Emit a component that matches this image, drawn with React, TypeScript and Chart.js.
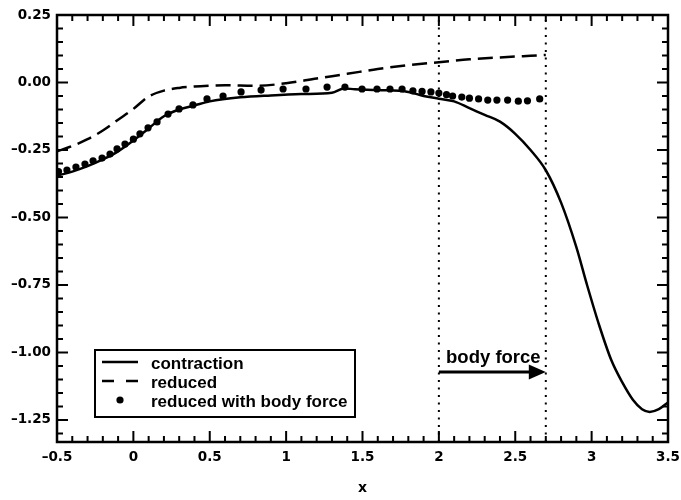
import React, { useEffect, useRef } from "react";
import { Chart, registerables } from "chart.js";
Chart.register(...registerables);

// ---- data ----
const contractionX = [-0.5, -0.4, -0.3, -0.2, -0.1, 0.0, 0.1, 0.2, 0.3, 0.4, 0.5, 0.7, 0.9, 1.1, 1.3, 1.38, 1.45, 1.6, 1.8, 1.9, 2.0, 2.1, 2.2, 2.3, 2.4, 2.5, 2.6, 2.7, 2.8, 2.9, 2.97, 3.05, 3.13, 3.2, 3.27, 3.33, 3.38, 3.44, 3.5];
const contractionY = [-0.345, -0.33, -0.31, -0.285, -0.255, -0.215, -0.17, -0.125, -0.1, -0.085, -0.07, -0.055, -0.048, -0.043, -0.038, -0.022, -0.025, -0.028, -0.035, -0.05, -0.06, -0.07, -0.095, -0.12, -0.145, -0.19, -0.25, -0.325, -0.445, -0.61, -0.75, -0.9, -1.03, -1.11, -1.175, -1.21, -1.22, -1.21, -1.185];

const reducedX = [-0.5, -0.4, -0.3, -0.2, -0.1, 0.0, 0.1, 0.2, 0.3, 0.4, 0.5, 0.6, 0.8, 1.0, 1.2, 1.4, 1.6, 1.8, 2.0, 2.2, 2.4, 2.6, 2.7];
const reducedY = [-0.255, -0.235, -0.21, -0.178, -0.138, -0.098, -0.052, -0.03, -0.02, -0.015, -0.012, -0.01, -0.012, -0.003, 0.015, 0.032, 0.05, 0.064, 0.075, 0.086, 0.093, 0.099, 0.102];

const bodyForceX = [-0.49, -0.435, -0.376, -0.317, -0.264, -0.205, -0.153, -0.107, -0.055, 0.0, 0.043, 0.096, 0.155, 0.227, 0.299, 0.39, 0.482, 0.587, 0.705, 0.836, 0.98, 1.13, 1.268, 1.385, 1.497, 1.595, 1.68, 1.759, 1.83, 1.89, 1.948, 2.0, 2.05, 2.09, 2.15, 2.2, 2.26, 2.32, 2.38, 2.45, 2.52, 2.58, 2.66];
const bodyForceY = [-0.33, -0.324, -0.313, -0.302, -0.29, -0.28, -0.265, -0.246, -0.228, -0.21, -0.19, -0.168, -0.146, -0.117, -0.098, -0.083, -0.061, -0.05, -0.035, -0.028, -0.024, -0.024, -0.017, -0.017, -0.024, -0.024, -0.024, -0.024, -0.031, -0.033, -0.035, -0.039, -0.045, -0.05, -0.054, -0.058, -0.061, -0.065, -0.065, -0.065, -0.069, -0.068, -0.061];

const seriesLabels = ["contraction", "reduced", "reduced with body force"];
const regionX = [2.0, 2.7];
const arrowY = -1.072;
const arrowTextY = -1.04;
const arrowText = "body force";
const axisTitleX = "x";

const X_MIN = -0.5, X_MAX = 3.5, X_STEP = 0.5, X_MINOR = 0.1;
const Y_MIN = -1.3315, Y_MAX = 0.25, Y_STEP = 0.25, Y_MINOR = 0.05;

const zip = (xs: number[], ys: number[]) => xs.map((x, i) => ({ x, y: ys[i] }));

const TICK_FONT = { family: "'DejaVu Sans'", weight: "bold" as const, size: 13.5 };

const frameTicks = {
  id: "frameTicks",
  afterDatasetsDraw(chart: any) {
    const { ctx, chartArea: a, scales } = chart;
    const xs = scales.x, ys = scales.y;
    ctx.save();
    ctx.strokeStyle = "#000";
    ctx.lineWidth = 2;
    ctx.beginPath();
    const nx = Math.round((X_MAX - X_MIN) / X_MINOR);
    for (let i = 0; i <= nx; i++) {
      const v = X_MIN + i * X_MINOR;
      const px = xs.getPixelForValue(v);
      const len = i % 5 === 0 ? 11 : 6;
      ctx.moveTo(px, a.bottom); ctx.lineTo(px, a.bottom - len);
      ctx.moveTo(px, a.top); ctx.lineTo(px, a.top + len);
    }
    const k0 = Math.ceil(Y_MIN / Y_MINOR - 1e-9), k1 = Math.floor(Y_MAX / Y_MINOR + 1e-9);
    for (let k = k0; k <= k1; k++) {
      const v = k * Y_MINOR;
      const py = ys.getPixelForValue(v);
      const len = k % 5 === 0 ? 11 : 6;
      ctx.moveTo(a.left, py); ctx.lineTo(a.left + len, py);
      ctx.moveTo(a.right, py); ctx.lineTo(a.right - len, py);
    }
    ctx.stroke();
    ctx.lineWidth = 2.5;
    ctx.strokeRect(a.left, a.top, a.right - a.left, a.bottom - a.top);

    // arrow + label
    const x0 = xs.getPixelForValue(regionX[0]);
    const x1 = xs.getPixelForValue(regionX[1]);
    const yy = ys.getPixelForValue(arrowY);
    ctx.fillStyle = "#000";
    ctx.lineWidth = 3;
    ctx.beginPath();
    ctx.moveTo(x0, yy); ctx.lineTo(x1 - 14, yy);
    ctx.stroke();
    ctx.beginPath();
    ctx.moveTo(x1, yy); ctx.lineTo(x1 - 17, yy - 7.5); ctx.lineTo(x1 - 17, yy + 7.5);
    ctx.closePath(); ctx.fill();
    ctx.font = "bold 18.5px 'Liberation Sans', Arial, sans-serif";
    ctx.textAlign = "center";
    ctx.textBaseline = "alphabetic";
    ctx.fillText(arrowText, (x0 + x1) / 2 + 1, ys.getPixelForValue(arrowTextY));

    // legend box
    const L = 95, T = 350, W = 260, H = 67;
    ctx.fillStyle = "#fff";
    ctx.fillRect(L, T, W, H);
    ctx.lineWidth = 2;
    ctx.strokeStyle = "#000";
    ctx.strokeRect(L, T, W, H);
    ctx.fillStyle = "#000";
    const ds = chart.data.datasets;
    const rows = [362, 381, 400];
    const bases = [369, 388, 407];
    for (let i = 0; i < 3; i++) {
      const d = ds[i];
      ctx.beginPath();
      if (i === 2) {
        ctx.arc(120, rows[i], d.pointRadius, 0, Math.PI * 2);
        ctx.fill();
      } else {
        ctx.lineWidth = d.borderWidth;
        ctx.setLineDash(i === 1 ? [12, 12] : []);
        ctx.moveTo(102, rows[i]); ctx.lineTo(138, rows[i]);
        ctx.stroke();
        ctx.setLineDash([]);
      }
      ctx.font = "bold 17px 'Liberation Sans', Arial, sans-serif";
      ctx.textAlign = "left";
      ctx.textBaseline = "alphabetic";
      ctx.fillText(d.label, 151, bases[i]);
    }
    ctx.restore();
  },
};

export default function App() {
  const ref = useRef<HTMLCanvasElement | null>(null);
  useEffect(() => {
    if (!ref.current) return;
    const vline = (xv: number) => ({
      label: "",
      data: [{ x: xv, y: Y_MIN }, { x: xv, y: Y_MAX }],
      borderColor: "#000",
      borderWidth: 2,
      borderDash: [2, 5.5],
      pointRadius: 0,
      fill: false,
    });
    const chart = new Chart(ref.current, {
      type: "line",
      data: {
        datasets: [
          {
            label: seriesLabels[0],
            data: zip(contractionX, contractionY),
            borderColor: "#000",
            borderWidth: 2.5,
            pointRadius: 0,
            cubicInterpolationMode: "monotone",
            fill: false,
          },
          {
            label: seriesLabels[1],
            data: zip(reducedX, reducedY),
            borderColor: "#000",
            borderWidth: 2.5,
            borderDash: [15, 7],
            pointRadius: 0,
            cubicInterpolationMode: "monotone",
            fill: false,
          },
          {
            label: seriesLabels[2],
            data: zip(bodyForceX, bodyForceY),
            showLine: false,
            pointRadius: 3.6,
            pointBackgroundColor: "#000",
            pointBorderWidth: 0,
            borderColor: "#000",
            backgroundColor: "#000",
          },
          vline(regionX[0]),
          vline(regionX[1]),
        ] as any,
      },
      options: {
        animation: false,
        responsive: true,
        maintainAspectRatio: false,
        layout: { padding: { left: 0, top: 15, right: 13, bottom: 0 } },
        plugins: { legend: { display: false }, tooltip: { enabled: false } },
        scales: {
          x: {
            type: "linear",
            min: X_MIN,
            max: X_MAX,
            grid: { display: false, drawTicks: false },
            border: { display: false },
            ticks: {
              stepSize: X_STEP,
              padding: 7,
              color: "#000",
              font: TICK_FONT,
              maxRotation: 0,
              callback: (v: any) => String(Math.round(Number(v) * 10) / 10).replace("-", "\u2013"),
            },
            title: {
              display: true,
              text: axisTitleX,
              color: "#000",
              font: { family: "'DejaVu Sans'", weight: "bold", size: 14 },
              padding: { top: 0, bottom: 3 },
            },
            afterFit: (s: any) => { s.height = 58; s.paddingLeft = 0; s.paddingRight = 0; },
          },
          y: {
            type: "linear",
            min: Y_MIN,
            max: Y_MAX,
            grid: { display: false, drawTicks: false },
            border: { display: false },
            ticks: {
              stepSize: Y_STEP,
              includeBounds: false,
              padding: 6,
              color: "#000",
              font: TICK_FONT,
              callback: (v: any) => {
                const n = Number(v);
                return (Math.abs(n) < 1e-9 ? "0.00" : n.toFixed(2)).replace("-", "\u2013");
              },
            },
            afterFit: (s: any) => { s.width = 57; s.paddingTop = 0; s.paddingBottom = 0; },
          },
        },
      } as any,
      plugins: [frameTicks],
    });
    return () => chart.destroy();
  }, []);
  return (
    <div style={{ position: "absolute", left: 0, top: 0, width: 681, height: 500 }}>
      <canvas ref={ref} />
    </div>
  );
}
